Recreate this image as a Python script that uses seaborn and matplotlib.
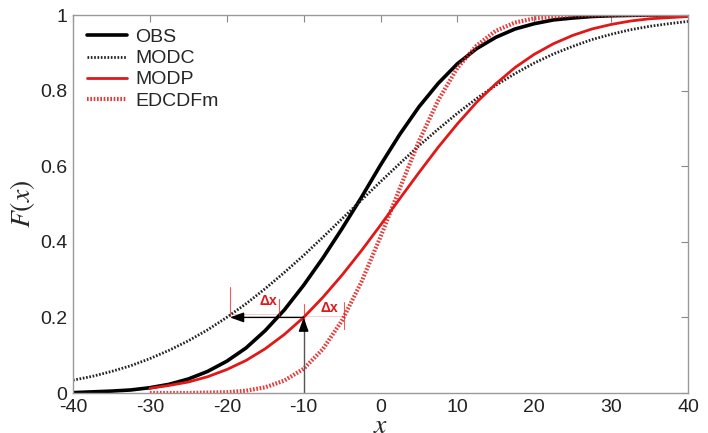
import matplotlib
matplotlib.use("Agg")
import matplotlib.pyplot as plt
import seaborn as sns

# ---- data ----
obs_x = [-40, -35, -32.5, -30, -27.5, -25, -22.5, -20, -17.5, -15, -12.5, -10, -7.5, -5, -2.5, 0,
         2.5, 5, 7.5, 10, 12.5, 15, 17.5, 20, 22.5, 25, 27.5, 30, 32.5, 35, 40]
obs_y = [0.001, 0.005, 0.008, 0.014, 0.023, 0.037, 0.057, 0.084, 0.119, 0.165, 0.22, 0.285, 0.357, 0.435, 0.517, 0.603,
         0.684, 0.757, 0.819, 0.871, 0.911, 0.941, 0.963, 0.977, 0.987, 0.992, 0.996, 0.998, 0.999, 1.0, 1.0]

modc_x = [-40, -37.5, -35, -32.5, -30, -27.5, -25, -22.5, -20, -17.5, -15, -12.5, -10, -7.5, -5, -2.5, 0,
          2.5, 5, 7.5, 10, 12.5, 15, 17.5, 20, 22.5, 25, 27.5, 30, 32.5, 35, 37.5, 40]
modc_y = [0.034, 0.044, 0.057, 0.072, 0.091, 0.113, 0.138, 0.167, 0.200, 0.236, 0.276, 0.319, 0.364, 0.412, 0.461, 0.510, 0.559,
          0.607, 0.654, 0.698, 0.740, 0.779, 0.814, 0.845, 0.873, 0.897, 0.917, 0.935, 0.949, 0.961, 0.970, 0.977, 0.983]

modp_x = [-30, -27.5, -25, -22.5, -20, -17.5, -15, -12.5, -10, -7.5, -5, -2.5, 0, 2.5, 5, 7.5,
          10, 12.5, 15, 17.5, 20, 22.5, 25, 27.5, 30, 32.5, 35, 37.5, 40]
modp_y = [0.0125, 0.020, 0.029, 0.043, 0.062, 0.086, 0.117, 0.155, 0.200, 0.253, 0.312, 0.376, 0.444, 0.514, 0.583, 0.650,
          0.712, 0.769, 0.818, 0.861, 0.896, 0.924, 0.946, 0.963, 0.975, 0.984, 0.990, 0.993, 0.996]

edc_x = [-30, -25, -20, -17.5, -15, -12.5, -10, -7.5, -5, -2.5, 0, 2.5, 5, 7.5, 10, 12.5, 15, 17.5, 20, 25, 30, 35, 40]
edc_y = [0.0, 0.0, 0.002, 0.006, 0.015, 0.033, 0.064, 0.116, 0.192, 0.293, 0.413, 0.541, 0.666, 0.774, 0.860, 0.919, 0.958, 0.980, 0.991, 0.999, 1.0, 1.0, 1.0]

x_ticks = [-40, -30, -20, -10, 0, 10, 20, 30, 40]
y_ticks = [0, 0.2, 0.4, 0.6, 0.8, 1]
y_ticklabels = ["0", "0.2", "0.4", "0.6", "0.8", "1"]

# annotation points
dx1 = (-19.6, -13.2)   # MODC -> OBS at F=0.2
dx2 = (-10.0, -4.8)    # MODP -> EDCDFm at F=0.2
f_level = 0.2

RED = "#e01818"

sns.set_theme(style="white")
plt.rcParams["font.family"] = ["Liberation Sans", "DejaVu Sans"]
plt.rcParams["axes.unicode_minus"] = False
plt.rcParams["mathtext.fontset"] = "stix"

fig = plt.figure(figsize=(7.08, 4.33), dpi=100)
ax = fig.add_axes([73 / 708, 1 - 393 / 433, (688 - 73) / 708, (393 - 15) / 433])

sns.lineplot(x=obs_x, y=obs_y, ax=ax, color="black", linewidth=2.6, label="OBS")
sns.lineplot(x=modc_x, y=modc_y, ax=ax, color="#222222", linewidth=2.0,
             linestyle=(0, (0.6, 0.6)), label="MODC")
sns.lineplot(x=modp_x, y=modp_y, ax=ax, color=RED, linewidth=2.0, label="MODP")
sns.lineplot(x=edc_x, y=edc_y, ax=ax, color=RED, linewidth=3.0,
             linestyle=(0, (0.4, 0.4)), alpha=0.85, label="EDCDFm")

# arrows
ax.annotate("", xy=(dx1[0], f_level), xytext=(dx2[0], f_level),
            arrowprops=dict(arrowstyle="-|>,head_length=0.7,head_width=0.25",
                            color="black", lw=1.0, shrinkA=0, shrinkB=0))
ax.plot([dx2[0], dx2[0]], [0, f_level - 0.01], color="#555555", lw=1.0)
ax.annotate("", xy=(dx2[0], f_level), xytext=(dx2[0], f_level - 0.02),
            arrowprops=dict(arrowstyle="-|>,head_length=0.7,head_width=0.25",
                            color="black", lw=1.0, shrinkA=0, shrinkB=0))

# delta-x markers
ax.plot([dx1[0], dx1[0]], [0.205, 0.28], color=RED, lw=0.8, alpha=0.7)
ax.plot([dx1[1], dx1[1]], [0.2, 0.25], color=RED, lw=0.8, alpha=0.7)
ax.plot([dx1[0], dx1[1]], [0.21, 0.21], color=RED, lw=0.6, alpha=0.25)
ax.text(-14.6, 0.244, "Δx", color=RED, fontsize=10, fontweight="bold", ha="center", va="center")
ax.plot([dx2[0], dx2[0]], [0.19, 0.235], color=RED, lw=0.8, alpha=0.7)
ax.plot([dx2[1], dx2[1]], [0.17, 0.24], color=RED, lw=0.8, alpha=0.7)
ax.plot([dx2[0], dx2[1]], [0.205, 0.205], color=RED, lw=0.6, alpha=0.25)
ax.text(-6.7, 0.226, "Δx", color=RED, fontsize=10, fontweight="bold", ha="center", va="center")

ax.set_xlim(-40, 40)
ax.set_ylim(0, 1)
ax.set_xticks(x_ticks)
ax.set_xticklabels([str(t) for t in x_ticks])
ax.set_yticks(y_ticks)
ax.set_yticklabels(y_ticklabels)
ax.tick_params(axis="both", direction="in", length=5, width=0.8, color="#888888",
               labelsize=14, labelcolor="#222222", top=True, right=True, pad=4)
for s in ax.spines.values():
    s.set_color("#999999")
    s.set_linewidth(1.0)

ax.set_xlabel(r"$x$", fontsize=20, labelpad=-2)
ax.set_ylabel(r"$F(x)$", fontsize=20)
ax.yaxis.set_label_coords(-0.058, 0.5)

leg = ax.legend(loc="upper left", frameon=False, fontsize=14, handlelength=2.1,
                handletextpad=0.4, labelspacing=0.18, borderaxespad=0.3,
                bbox_to_anchor=(0.0, 1.0))

fig.savefig("out.png", dpi=100)
